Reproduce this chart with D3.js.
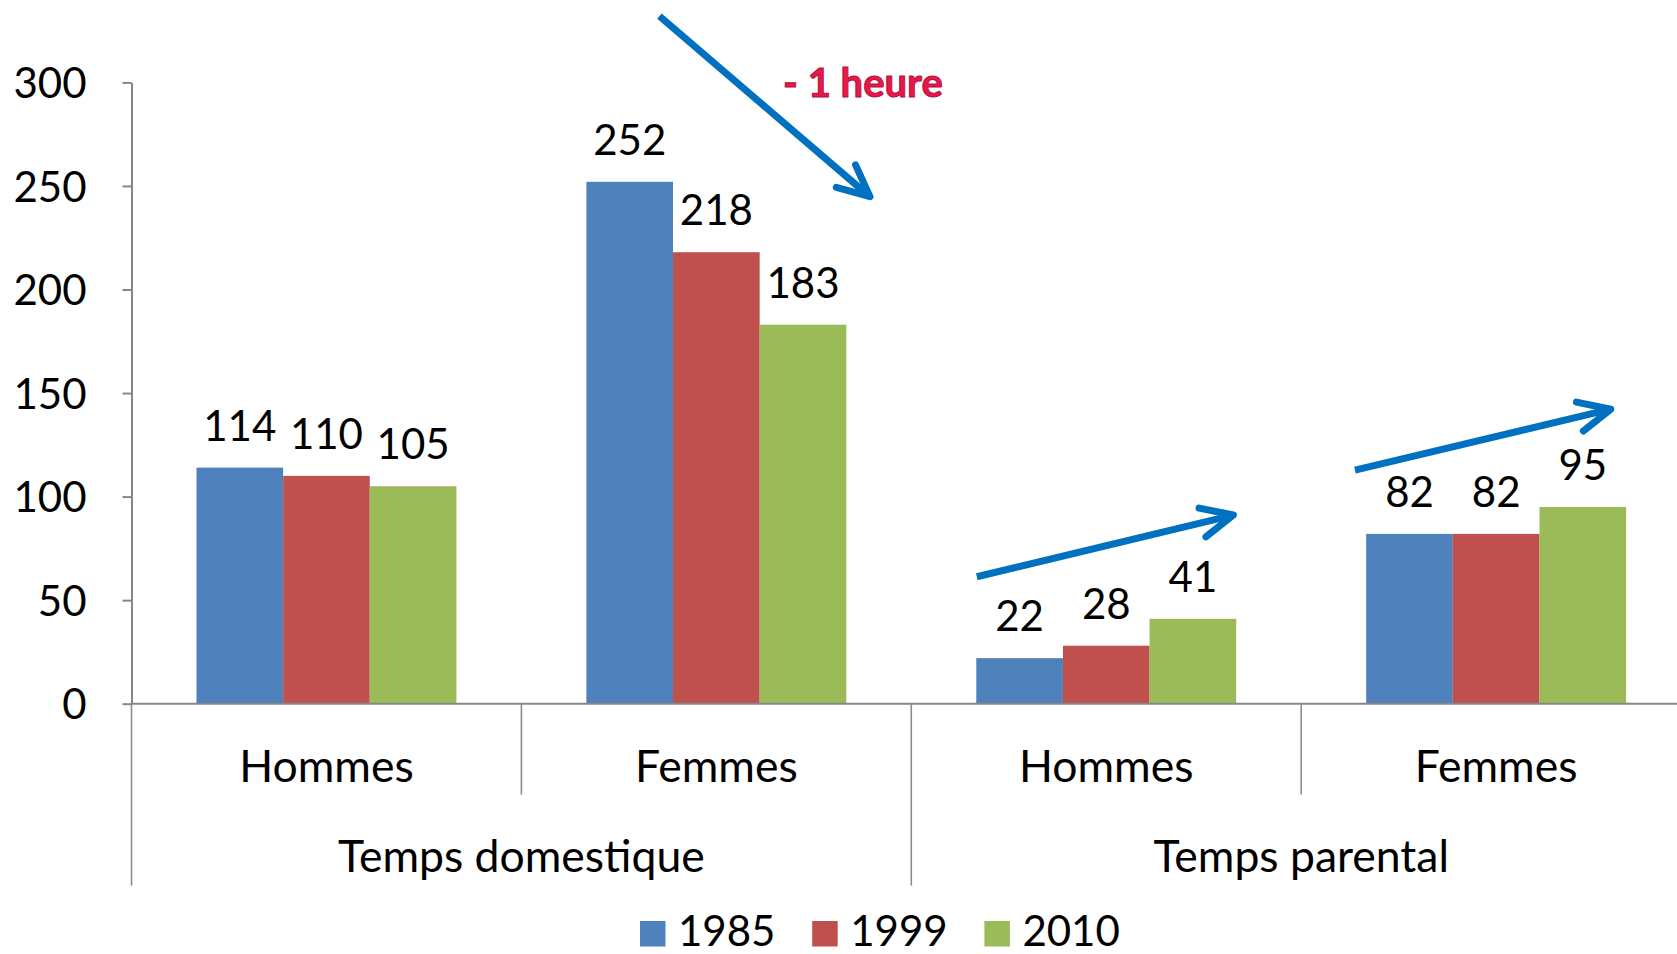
<!DOCTYPE html>
<html>
<head>
<meta charset="utf-8">
<script src="https://cdn.jsdelivr.net/npm/d3@7"></script>
<style>
  html, body { margin: 0; padding: 0; background: #fff; }
  svg { display: block; }
  text { font-family: Lato, "Open Sans", sans-serif; }
</style>
</head>
<body>
<svg id="chart" width="1677" height="954"></svg>
<script>
// ---- Data ----
const groups = ["Temps domestique", "Temps parental"];
const categories = ["Hommes", "Femmes", "Hommes", "Femmes"];
const categoryGroup = [0, 0, 1, 1];
const years = ["1985", "1999", "2010"];
const values1985 = [114, 252, 22, 82];
const values1999 = [110, 218, 28, 82];
const values2010 = [105, 183, 41, 95];
const yTicks = [0, 50, 100, 150, 200, 250, 300];
const colors = ["#4F81BD", "#C0504D", "#9BBB59"];
// annotation arrows in (category position, value) space
const arrows = [
  { from: [1.354, 332], to: [1.894, 244.8] },
  { from: [2.168, 61.3], to: [2.826, 91.1] },
  { from: [3.138, 112.8], to: [3.794, 142.2] }
];
const annotation = { text: "- 1 heure", pos: [1.876, 293] };

const series = [values1985, values1999, values2010];

// ---- Layout ----
const svg = d3.select("#chart");
const W = 1677, H = 954;
const left = 131.5, catW = 389.9;
const yBottom = 703.7, yTop = 82.4;
const fontSize = 42;
const catFontSize = 44.5;

const x0 = d3.scaleBand().domain(d3.range(categories.length))
  .range([left, left + catW * categories.length]).paddingInner(0).paddingOuter(0);
const x1 = d3.scaleBand().domain(years).range([0, x0.bandwidth()])
  .paddingInner(0).paddingOuter(0.75);
const y = d3.scaleLinear().domain([0, 300]).range([yBottom, yTop]);
const xPos = d3.scaleLinear().domain([0, categories.length]).range([left, left + catW * categories.length]);

// ---- Bars ----
const barData = [];
categories.forEach((c, i) => {
  years.forEach((yr, j) => {
    barData.push({ cat: i, year: yr, idx: j, value: series[j][i] });
  });
});

svg.append("g").selectAll("rect").data(barData).join("rect")
  .attr("x", d => x0(d.cat) + x1(d.year))
  .attr("y", d => y(d.value))
  .attr("width", x1.bandwidth())
  .attr("height", d => y(0) - y(d.value))
  .attr("fill", d => colors[d.idx]);

// value labels
svg.append("g").selectAll("text").data(barData).join("text")
  .attr("x", d => x0(d.cat) + x1(d.year) + x1.bandwidth() / 2)
  .attr("y", d => y(d.value) - 27)
  .attr("text-anchor", "middle")
  .attr("font-size", fontSize)
  .attr("fill", "#000")
  .text(d => d.value);

// ---- Y axis ----
const yAxis = d3.axisLeft(y).tickValues(yTicks).tickSize(9).tickSizeOuter(0).tickPadding(36);
const gy = svg.append("g").attr("transform", `translate(${left},0)`).call(yAxis);
gy.select(".domain").attr("stroke", "#868686").attr("stroke-width", 2);
gy.selectAll(".tick line").attr("stroke", "#868686").attr("stroke-width", 2);
gy.selectAll(".tick text").attr("font-size", fontSize).attr("fill", "#000")
  .attr("font-family", "Lato, 'Open Sans', sans-serif").attr("dy", "0.36em");

// ---- X axis line ----
svg.append("line")
  .attr("x1", left).attr("x2", W)
  .attr("y1", y(0)).attr("y2", y(0))
  .attr("stroke", "#868686").attr("stroke-width", 2);

// separators
const boundaries = d3.range(categories.length + 1);
svg.append("g").selectAll("line").data(boundaries).join("line")
  .attr("x1", d => xPos(d)).attr("x2", d => xPos(d))
  .attr("y1", y(0))
  .attr("y2", d => (d % 2 === 0 ? 885.6 : 794.6))
  .attr("stroke", "#8c8c8c").attr("stroke-width", 1.6);

// category labels
svg.append("g").selectAll("text").data(categories).join("text")
  .attr("x", (d, i) => x0(i) + x0.bandwidth() / 2)
  .attr("y", 782)
  .attr("text-anchor", "middle")
  .attr("font-size", catFontSize)
  .text(d => d);

// group labels
svg.append("g").selectAll("text").data(groups).join("text")
  .attr("x", (d, g) => {
    const idx = categories.map((c, i) => i).filter(i => categoryGroup[i] === g);
    return (x0(idx[0]) + x0(idx[idx.length - 1]) + x0.bandwidth()) / 2;
  })
  .attr("y", 871.5)
  .attr("text-anchor", "middle")
  .attr("font-size", catFontSize)
  .text(d => d);

// ---- Legend ----
const legendStart = 640, legendStep = 172.2, sq = 25.5;
const lg = svg.append("g").selectAll("g").data(years).join("g")
  .attr("transform", (d, i) => `translate(${legendStart + i * legendStep},0)`);
lg.append("rect").attr("x", 0).attr("y", 921).attr("width", sq).attr("height", sq)
  .attr("fill", (d, i) => colors[i]);
lg.append("text").attr("x", 38).attr("y", 946).attr("font-size", fontSize).text(d => d);

// ---- Arrows ----
const arrowColor = "#0070C0";
const ag = svg.append("g").attr("stroke", arrowColor).attr("stroke-width", 7)
  .attr("stroke-linecap", "round").attr("stroke-linejoin", "round").attr("fill", "none");
arrows.forEach(a => {
  const x1p = xPos(a.from[0]), y1p = y(a.from[1]);
  const x2p = xPos(a.to[0]), y2p = y(a.to[1]);
  ag.append("line").attr("x1", x1p).attr("y1", y1p).attr("x2", x2p).attr("y2", y2p)
    .attr("stroke-linecap", "butt");
  const ang = Math.atan2(y1p - y2p, x1p - x2p);
  const len = 35, spread = 25 * Math.PI / 180;
  const p1 = [x2p + len * Math.cos(ang + spread), y2p + len * Math.sin(ang + spread)];
  const p2 = [x2p + len * Math.cos(ang - spread), y2p + len * Math.sin(ang - spread)];
  ag.append("path").attr("d", `M${p1[0]},${p1[1]}L${x2p},${y2p}L${p2[0]},${p2[1]}`);
});

// annotation text
svg.append("text")
  .attr("x", xPos(annotation.pos[0]))
  .attr("y", y(annotation.pos[1]))
  .attr("text-anchor", "middle")
  .attr("font-size", 40)
  .attr("font-weight", "bold")
  .attr("fill", "#E8174C")
  .attr("stroke", "#B5123A")
  .attr("stroke-width", 1)
  .text(annotation.text);
</script>
</body>
</html>
